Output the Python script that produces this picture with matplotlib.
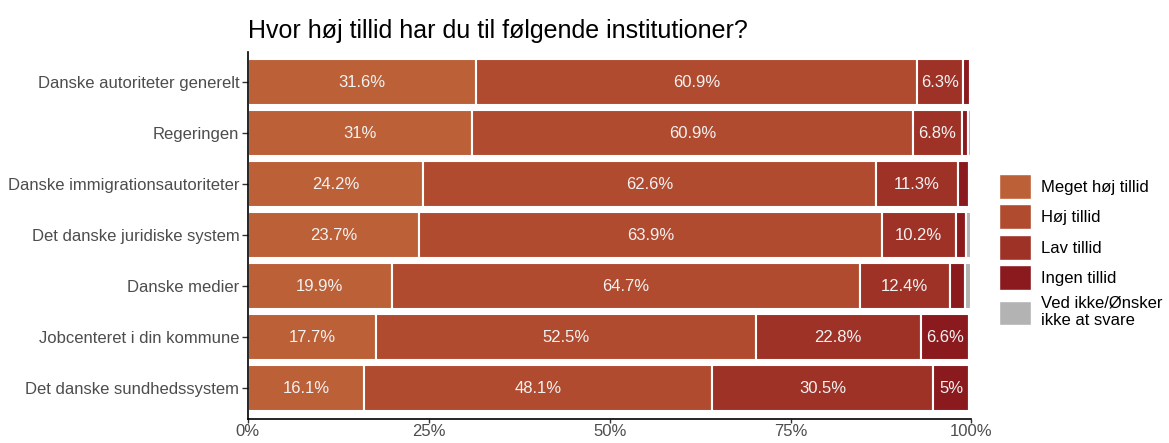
import matplotlib.pyplot as plt
from matplotlib.patches import Patch
import numpy as np

plt.rcParams['font.family'] = ['Liberation Sans', 'DejaVu Sans']

# institutions, top to bottom
institutions = ['Danske autoriteter generelt', 'Regeringen', 'Danske immigrationsautoriteter',
                'Det danske juridiske system', 'Danske medier', 'Jobcenteret i din kommune',
                'Det danske sundhedssystem']
categories = ['Meget høj tillid', 'Høj tillid', 'Lav tillid', 'Ingen tillid', 'Ved ikke/Ønsker\nikke at svare']
colors = ['#BC6038', '#B04B2F', '#9E3227', '#8B1A1E', '#B3B3B3']

# shares in percent, one list per answer
meget_hoj = [31.6, 31.0, 24.2, 23.7, 19.9, 17.7, 16.1]
hoj = [60.9, 60.9, 62.6, 63.9, 64.7, 52.5, 48.1]
lav = [6.3, 6.8, 11.3, 10.2, 12.4, 22.8, 30.5]
ingen = [1.0, 0.8, 1.6, 1.5, 2.1, 6.6, 5.0]
ved_ikke = [0.2, 0.5, 0.3, 0.7, 0.9, 0.4, 0.3]
series = [meget_hoj, hoj, lav, ingen, ved_ikke]

fig = plt.figure(figsize=(11.69, 4.43), dpi=100)
ax = fig.add_axes([0.212, 0.055, 0.619, 0.828])

y = np.arange(len(institutions))
left = np.zeros(len(institutions))
for vals, col in zip(series, colors):
    vals = np.array(vals) / 100
    ax.barh(y, vals, left=left, height=0.9, color=col, edgecolor='white', linewidth=1.5)
    for yi, l, v in zip(y, left, vals):
        if v >= 0.05:
            txt = f'{v*100:.1f}'.rstrip('0').rstrip('.') + '%'
            ax.text(l + v / 2, yi, txt, ha='center', va='center', color='#F2F2F2', fontsize=12)
    left += vals

ax.set_xlim(0, 1)
ax.set_ylim(6.6, -0.6)
ax.set_yticks(y)
ax.set_yticklabels(institutions, fontsize=12, color='#4D4D4D')
ax.set_xticks([0, 0.25, 0.5, 0.75, 1.0])
ax.set_xticklabels(['0%', '25%', '50%', '75%', '100%'], fontsize=12, color='#4D4D4D')
ax.tick_params(axis='both', length=4, color='#333333', width=1, pad=2)
ax.tick_params(axis='x', length=3, pad=1)
for s in ['top', 'right']:
    ax.spines[s].set_visible(False)
for s in ['left', 'bottom']:
    ax.spines[s].set_linewidth(1.2)
    ax.spines[s].set_color('black')

fig.text(0.212, 0.93, 'Hvor høj tillid har du til følgende institutioner?', fontsize=18, ha='left', va='center')

handles = [Patch(facecolor=c, edgecolor='white') for c in colors]
fig.legend(handles, categories, loc='center left', bbox_to_anchor=(0.842, 0.433), frameon=False,
           fontsize=12, handlelength=1.9, handleheight=1.9, labelspacing=0.35, handletextpad=0.6)

fig.savefig('out.png', dpi=100)
